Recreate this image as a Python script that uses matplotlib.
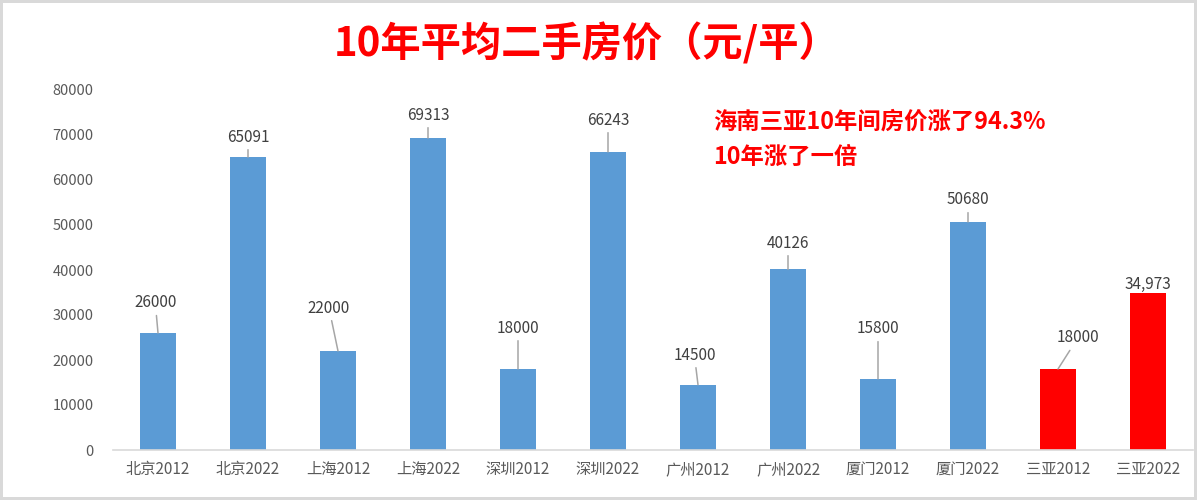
import matplotlib.pyplot as plt

plt.rcParams['font.family'] = ['Noto Sans CJK SC', 'DejaVu Sans']

cities = ["北京2012", "北京2022", "上海2012", "上海2022", "深圳2012", "深圳2022",
          "广州2012", "广州2022", "厦门2012", "厦门2022", "三亚2012", "三亚2022"]
prices = [26000, 65091, 22000, 69313, 18000, 66243, 14500, 40126, 15800, 50680, 18000, 34973]
value_text = ["26000", "65091", "22000", "69313", "18000", "66243",
              "14500", "40126", "15800", "50680", "18000", "34,973"]

# label placement (x offset in categories, label centre height) and whether a leader line is drawn
label_dx = [-0.03, 0, -0.1, 0, 0, 0, -0.04, 0, 0, 0, 0.22, 0]
label_y = [32700, 69550, 31550, 74440, 27100, 73330, 21100, 46000, 26900, 55560, 24900, 36700]
leader = [True] * 11 + [False]

blue = "#5B9BD5"
red = "#FF0000"
colors = [blue] * 10 + [red, red]

fig = plt.figure(figsize=(11.97, 5), dpi=100, edgecolor="#D9D9D9", linewidth=3)
ax = fig.add_axes([113 / 1197, 0.1, 1080 / 1197, 0.72])

x = range(len(cities))
ax.bar(x, prices, width=0.4, color=colors)

for i, v in enumerate(prices):
    if leader[i]:
        ax.annotate(value_text[i], xy=(i, v), xytext=(i + label_dx[i], label_y[i]),
                    ha="center", va="center", fontsize=11, color="#404040",
                    arrowprops=dict(arrowstyle="-", color="#A6A6A6", lw=1.1,
                                    shrinkA=1, shrinkB=0))
    else:
        ax.text(i + label_dx[i], label_y[i], value_text[i], ha="center", va="center",
                fontsize=11, color="#404040")

ax.set_xlim(-0.5, len(cities) - 0.5)
ax.set_ylim(0, 80000)
ax.set_yticks(range(0, 80001, 10000))
ax.set_xticks(list(x))
ax.set_xticklabels(cities)
ax.tick_params(axis="both", length=0, labelsize=10.5, labelcolor="#595959")
ax.tick_params(axis="x", labelsize=11, pad=8)
ax.tick_params(axis="y", pad=14)
for s in ["top", "right", "left"]:
    ax.spines[s].set_visible(False)
ax.spines["bottom"].set_color("#D9D9D9")
ax.spines["bottom"].set_linewidth(1.2)

fig.text(587 / 1197, 1 - 44 / 500, "10年平均二手房价（元/平）", ha="center", va="center",
         fontsize=29, fontweight="bold", color=red)
fig.text(713 / 1197, 1 - 122 / 500, "海南三亚10年间房价涨了94.3%", ha="left", va="center",
         fontsize=16.8, fontweight="bold", color=red)
fig.text(713 / 1197, 1 - 157 / 500, "10年涨了一倍", ha="left", va="center",
         fontsize=16.8, fontweight="bold", color=red)

fig.savefig("out.png", dpi=100, edgecolor=fig.get_edgecolor())
